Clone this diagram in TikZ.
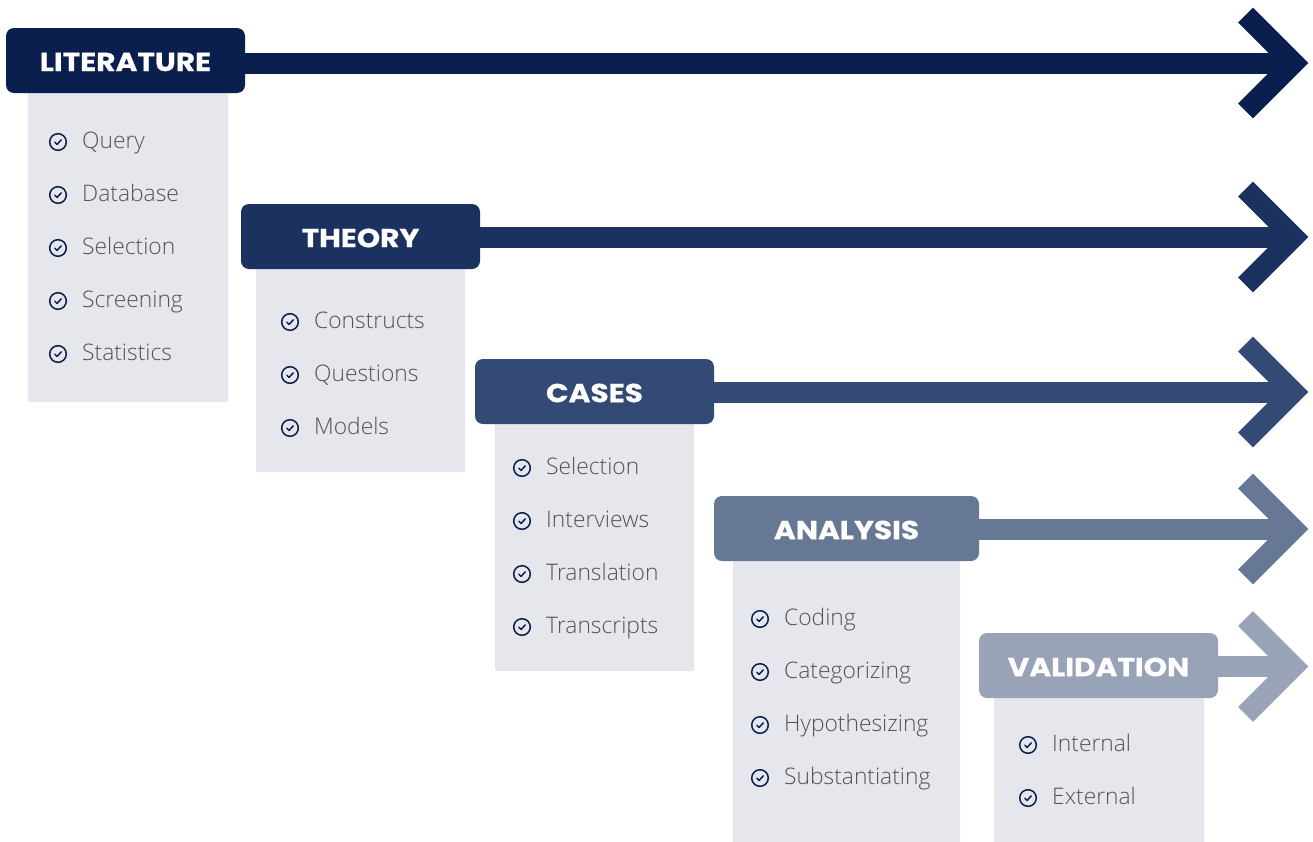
\documentclass[tikz,border=0pt]{standalone}
\usepackage{fontspec}
\newfontfamily\hdrfont{Poppins}[FakeStretch=1.14, BoldFeatures={FakeBold=0.6}]
\IfFontExistsTF{Open Sans Light}{\newfontfamily\itemfont{Open Sans Light}}{\newfontfamily\itemfont{Open Sans}}
\definecolor{cA}{HTML}{0B1F4F}
\definecolor{cB}{HTML}{1B3260}
\definecolor{cC}{HTML}{324A74}
\definecolor{cD}{HTML}{677895}
\definecolor{cE}{HTML}{99A3B8}
\definecolor{panelgray}{HTML}{E6E7EC}
\definecolor{itemgray}{HTML}{50535B}
\definecolor{iconblue}{HTML}{0B1F4F}
\tikzset{
  hdr/.style={rounded corners=8pt, minimum height=65pt, inner sep=0pt, text=white,
    font=\hdrfont\bfseries\fontsize{26}{26}\selectfont},
  hdrtxt/.style={text=white, inner sep=0pt, font=\hdrfont\bfseries\fontsize{26}{26}\selectfont},
  panel/.style={fill=panelgray, rounded corners=2pt},
  shaft/.style={line width=21pt},
  chev/.style={line width=21pt, line join=miter},
  itemtxt/.style={anchor=base west, inner sep=0pt, text=itemgray,
    font=\itemfont\fontsize{22.8}{22.8}\selectfont},
  chk/.pic={
    \draw[iconblue, line width=1.5pt] (0,0) circle (8.3);
    \draw[iconblue, line width=1.5pt, line cap=round, line join=round] (-3.2,0.2) -- (-0.9,2.4) -- (3.3,-2.2);
  }
}
\newcommand\stageitem[4]{% icon x, text x, y, text
  \pic at (#1,#3+2) {chk};
  \node[itemtxt] at (#2,#3+8.2) {#4};
}
\begin{document}
\begin{tikzpicture}[x=1pt,y=-1pt]
\useasboundingbox (0,0) rectangle (1313,841);
% panels
\fill[panel] (28,88) rectangle (228,402);
\fill[panel] (256,264) rectangle (465,472);
\fill[panel] (495,419) rectangle (694,671);
\fill[panel] (733,556) rectangle (960,845);
\fill[panel] (994,693) rectangle (1204,845);
% headers
\node[hdr, fill=cA, minimum width=239pt] (lit) at (125.5,60.5) {};
\node[hdr, fill=cB, minimum width=239pt] (theo) at (360.5,236.5) {};
\node[hdr, fill=cC, minimum width=239pt] (cases) at (594.5,391.5) {};
\node[hdr, fill=cD, minimum width=265pt] (anal) at (846.5,528.5) {};
\node[hdr, fill=cE, minimum width=239pt] (vali) at (1098.5,665.5) {};
\node[hdrtxt] at ([yshift=-1.5pt]lit.center) {LITERATURE};
\node[hdrtxt] at ([yshift=-1.5pt]theo.center) {THEORY};
\node[hdrtxt] at ([yshift=-1.5pt]cases.center) {CASES};
\node[hdrtxt] at ([yshift=-1.5pt]anal.center) {ANALYSIS};
\node[hdrtxt] at ([yshift=-1.5pt]vali.center) {VALIDATION};
% arrow vertices
\coordinate (litV) at (1293.5,63);
\coordinate (theoV) at (1293.5,237);
\coordinate (casesV) at (1293.5,392);
\coordinate (analV) at (1293.5,529);
\coordinate (valiV) at (1293.5,666.5);
% arrows
\draw[shaft, cA] ([xshift=-2pt]lit.east |- litV) -- (litV);
\draw[chev, cA] (litV) ++(-48,-48) -- (litV) -- ++(-48,48);
\draw[shaft, cB] ([xshift=-2pt]theo.east |- theoV) -- (theoV);
\draw[chev, cB] (theoV) ++(-48,-48) -- (theoV) -- ++(-48,48);
\draw[shaft, cC] ([xshift=-2pt]cases.east |- casesV) -- (casesV);
\draw[chev, cC] (casesV) ++(-48,-48) -- (casesV) -- ++(-48,48);
\draw[shaft, cD] ([xshift=-2pt]anal.east |- analV) -- (analV);
\draw[chev, cD] (analV) ++(-48,-48) -- (analV) -- ++(-48,48);
\draw[shaft, cE] ([xshift=-2pt]vali.east |- valiV) -- (valiV);
\draw[chev, cE] (valiV) ++(-48,-48) -- (valiV) -- ++(-48,48);
% items
\stageitem{58}{82}{140}{Query}
\stageitem{58}{82}{193}{Database}
\stageitem{58}{82}{246}{Selection}
\stageitem{58}{82}{299}{Screening}
\stageitem{58}{82}{352}{Statistics}
\stageitem{290}{314}{320}{Constructs}
\stageitem{290}{314}{373}{Questions}
\stageitem{290}{314}{426}{Models}
\stageitem{522}{546}{466}{Selection}
\stageitem{522}{546}{519}{Interviews}
\stageitem{522}{546}{572}{Translation}
\stageitem{522}{546}{625}{Transcripts}
\stageitem{760}{784}{617}{Coding}
\stageitem{760}{784}{670}{Categorizing}
\stageitem{760}{784}{723}{Hypothesizing}
\stageitem{760}{784}{776}{Substantiating}
\stageitem{1028}{1052}{743}{Internal}
\stageitem{1028}{1052}{796}{External}
\end{tikzpicture}
\end{document}
